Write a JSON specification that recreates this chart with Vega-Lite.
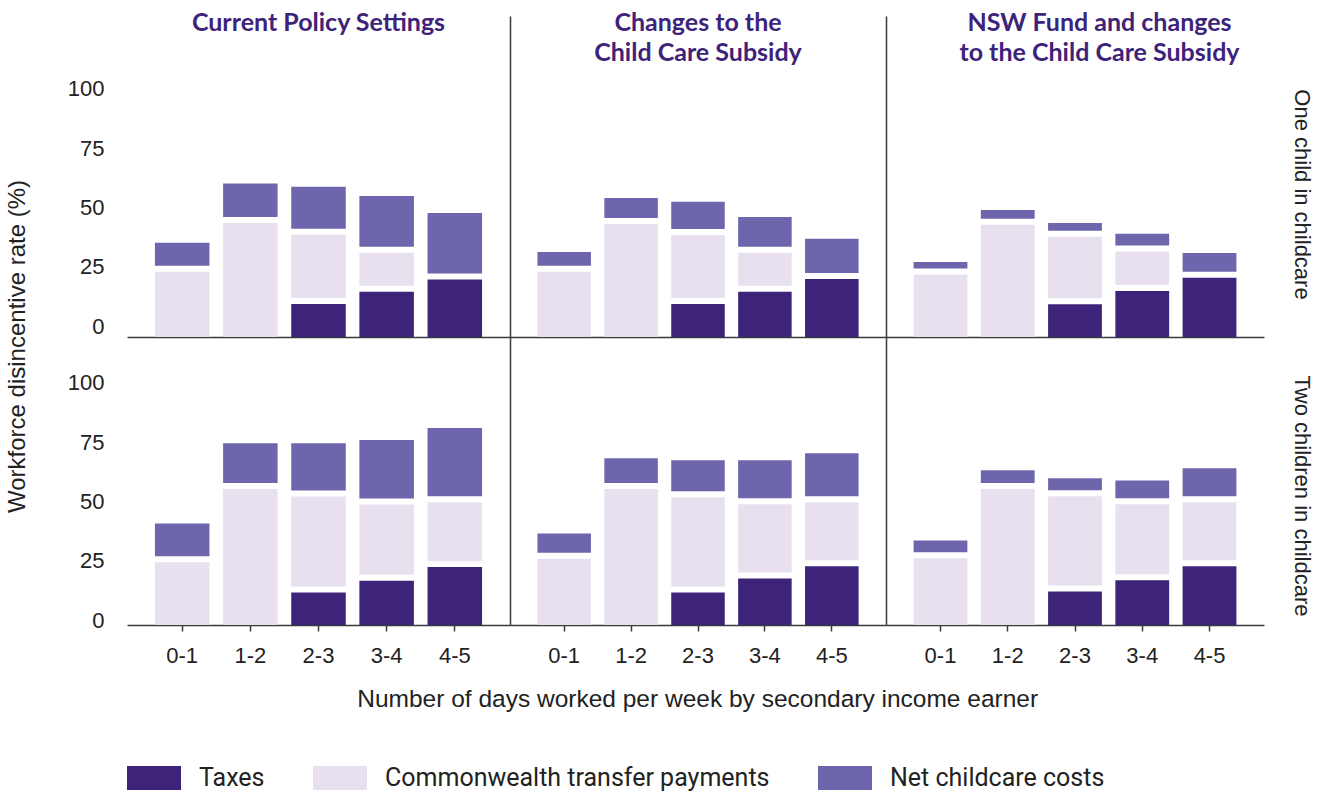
{
  "$schema": "https://vega.github.io/schema/vega-lite/v6.json",
  "padding": {"left": 6, "top": 11, "right": 5, "bottom": 0},
  "data": {"values": [
    {"policy":"Current","children":"One","days":"0-1","component":"Taxes","order":1,"value":0},
    {"policy":"Current","children":"One","days":"0-1","component":"Commonwealth transfer payments","order":2,"value":28.8},
    {"policy":"Current","children":"One","days":"0-1","component":"Net childcare costs","order":3,"value":11.0},
    {"policy":"Current","children":"One","days":"1-2","component":"Taxes","order":1,"value":0},
    {"policy":"Current","children":"One","days":"1-2","component":"Commonwealth transfer payments","order":2,"value":49.3},
    {"policy":"Current","children":"One","days":"1-2","component":"Net childcare costs","order":3,"value":15.4},
    {"policy":"Current","children":"One","days":"2-3","component":"Taxes","order":1,"value":15.2},
    {"policy":"Current","children":"One","days":"2-3","component":"Commonwealth transfer payments","order":2,"value":29.2},
    {"policy":"Current","children":"One","days":"2-3","component":"Net childcare costs","order":3,"value":19.0},
    {"policy":"Current","children":"One","days":"3-4","component":"Taxes","order":1,"value":20.4},
    {"policy":"Current","children":"One","days":"3-4","component":"Commonwealth transfer payments","order":2,"value":16.4},
    {"policy":"Current","children":"One","days":"3-4","component":"Net childcare costs","order":3,"value":22.7},
    {"policy":"Current","children":"One","days":"4-5","component":"Taxes","order":1,"value":25.5},
    {"policy":"Current","children":"One","days":"4-5","component":"Commonwealth transfer payments","order":2,"value":0},
    {"policy":"Current","children":"One","days":"4-5","component":"Net childcare costs","order":3,"value":26.8},

    {"policy":"CCS","children":"One","days":"0-1","component":"Taxes","order":1,"value":0},
    {"policy":"CCS","children":"One","days":"0-1","component":"Commonwealth transfer payments","order":2,"value":28.8},
    {"policy":"CCS","children":"One","days":"0-1","component":"Net childcare costs","order":3,"value":7.1},
    {"policy":"CCS","children":"One","days":"1-2","component":"Taxes","order":1,"value":0},
    {"policy":"CCS","children":"One","days":"1-2","component":"Commonwealth transfer payments","order":2,"value":48.9},
    {"policy":"CCS","children":"One","days":"1-2","component":"Net childcare costs","order":3,"value":9.7},
    {"policy":"CCS","children":"One","days":"2-3","component":"Taxes","order":1,"value":15.2},
    {"policy":"CCS","children":"One","days":"2-3","component":"Commonwealth transfer payments","order":2,"value":29.1},
    {"policy":"CCS","children":"One","days":"2-3","component":"Net childcare costs","order":3,"value":12.7},
    {"policy":"CCS","children":"One","days":"3-4","component":"Taxes","order":1,"value":20.3},
    {"policy":"CCS","children":"One","days":"3-4","component":"Commonwealth transfer payments","order":2,"value":16.5},
    {"policy":"CCS","children":"One","days":"3-4","component":"Net childcare costs","order":3,"value":13.8},
    {"policy":"CCS","children":"One","days":"4-5","component":"Taxes","order":1,"value":25.7},
    {"policy":"CCS","children":"One","days":"4-5","component":"Commonwealth transfer payments","order":2,"value":0},
    {"policy":"CCS","children":"One","days":"4-5","component":"Net childcare costs","order":3,"value":15.7},

    {"policy":"NSW","children":"One","days":"0-1","component":"Taxes","order":1,"value":0},
    {"policy":"NSW","children":"One","days":"0-1","component":"Commonwealth transfer payments","order":2,"value":27.6},
    {"policy":"NSW","children":"One","days":"0-1","component":"Net childcare costs","order":3,"value":4.0},
    {"policy":"NSW","children":"One","days":"1-2","component":"Taxes","order":1,"value":0},
    {"policy":"NSW","children":"One","days":"1-2","component":"Commonwealth transfer payments","order":2,"value":48.6},
    {"policy":"NSW","children":"One","days":"1-2","component":"Net childcare costs","order":3,"value":5.0},
    {"policy":"NSW","children":"One","days":"2-3","component":"Taxes","order":1,"value":15.1},
    {"policy":"NSW","children":"One","days":"2-3","component":"Commonwealth transfer payments","order":2,"value":28.4},
    {"policy":"NSW","children":"One","days":"2-3","component":"Net childcare costs","order":3,"value":4.6},
    {"policy":"NSW","children":"One","days":"3-4","component":"Taxes","order":1,"value":20.7},
    {"policy":"NSW","children":"One","days":"3-4","component":"Commonwealth transfer payments","order":2,"value":16.6},
    {"policy":"NSW","children":"One","days":"3-4","component":"Net childcare costs","order":3,"value":6.2},
    {"policy":"NSW","children":"One","days":"4-5","component":"Taxes","order":1,"value":26.3},
    {"policy":"NSW","children":"One","days":"4-5","component":"Commonwealth transfer payments","order":2,"value":0},
    {"policy":"NSW","children":"One","days":"4-5","component":"Net childcare costs","order":3,"value":9.1},

    {"policy":"Current","children":"Two","days":"0-1","component":"Taxes","order":1,"value":0},
    {"policy":"Current","children":"Two","days":"0-1","component":"Commonwealth transfer payments","order":2,"value":27.7},
    {"policy":"Current","children":"Two","days":"0-1","component":"Net childcare costs","order":3,"value":15.1},
    {"policy":"Current","children":"Two","days":"1-2","component":"Taxes","order":1,"value":0},
    {"policy":"Current","children":"Two","days":"1-2","component":"Commonwealth transfer payments","order":2,"value":58.6},
    {"policy":"Current","children":"Two","days":"1-2","component":"Net childcare costs","order":3,"value":18.1},
    {"policy":"Current","children":"Two","days":"2-3","component":"Taxes","order":1,"value":15.0},
    {"policy":"Current","children":"Two","days":"2-3","component":"Commonwealth transfer payments","order":2,"value":40.5},
    {"policy":"Current","children":"Two","days":"2-3","component":"Net childcare costs","order":3,"value":21.2},
    {"policy":"Current","children":"Two","days":"3-4","component":"Taxes","order":1,"value":19.9},
    {"policy":"Current","children":"Two","days":"3-4","component":"Commonwealth transfer payments","order":2,"value":32.2},
    {"policy":"Current","children":"Two","days":"3-4","component":"Net childcare costs","order":3,"value":25.9},
    {"policy":"Current","children":"Two","days":"4-5","component":"Taxes","order":1,"value":25.7},
    {"policy":"Current","children":"Two","days":"4-5","component":"Commonwealth transfer payments","order":2,"value":27.3},
    {"policy":"Current","children":"Two","days":"4-5","component":"Net childcare costs","order":3,"value":30.1},

    {"policy":"CCS","children":"Two","days":"0-1","component":"Taxes","order":1,"value":0},
    {"policy":"CCS","children":"Two","days":"0-1","component":"Commonwealth transfer payments","order":2,"value":29.2},
    {"policy":"CCS","children":"Two","days":"0-1","component":"Net childcare costs","order":3,"value":9.4},
    {"policy":"CCS","children":"Two","days":"1-2","component":"Taxes","order":1,"value":0},
    {"policy":"CCS","children":"Two","days":"1-2","component":"Commonwealth transfer payments","order":2,"value":58.6},
    {"policy":"CCS","children":"Two","days":"1-2","component":"Net childcare costs","order":3,"value":11.7},
    {"policy":"CCS","children":"Two","days":"2-3","component":"Taxes","order":1,"value":15.0},
    {"policy":"CCS","children":"Two","days":"2-3","component":"Commonwealth transfer payments","order":2,"value":40.2},
    {"policy":"CCS","children":"Two","days":"2-3","component":"Net childcare costs","order":3,"value":14.3},
    {"policy":"CCS","children":"Two","days":"3-4","component":"Taxes","order":1,"value":20.9},
    {"policy":"CCS","children":"Two","days":"3-4","component":"Commonwealth transfer payments","order":2,"value":31.3},
    {"policy":"CCS","children":"Two","days":"3-4","component":"Net childcare costs","order":3,"value":17.3},
    {"policy":"CCS","children":"Two","days":"4-5","component":"Taxes","order":1,"value":26.0},
    {"policy":"CCS","children":"Two","days":"4-5","component":"Commonwealth transfer payments","order":2,"value":27.1},
    {"policy":"CCS","children":"Two","days":"4-5","component":"Net childcare costs","order":3,"value":19.4},

    {"policy":"NSW","children":"Two","days":"0-1","component":"Taxes","order":1,"value":0},
    {"policy":"NSW","children":"Two","days":"0-1","component":"Commonwealth transfer payments","order":2,"value":29.4},
    {"policy":"NSW","children":"Two","days":"0-1","component":"Net childcare costs","order":3,"value":6.2},
    {"policy":"NSW","children":"Two","days":"1-2","component":"Taxes","order":1,"value":0},
    {"policy":"NSW","children":"Two","days":"1-2","component":"Commonwealth transfer payments","order":2,"value":58.6},
    {"policy":"NSW","children":"Two","days":"1-2","component":"Net childcare costs","order":3,"value":6.7},
    {"policy":"NSW","children":"Two","days":"2-3","component":"Taxes","order":1,"value":15.4},
    {"policy":"NSW","children":"Two","days":"2-3","component":"Commonwealth transfer payments","order":2,"value":40.2},
    {"policy":"NSW","children":"Two","days":"2-3","component":"Net childcare costs","order":3,"value":6.3},
    {"policy":"NSW","children":"Two","days":"3-4","component":"Taxes","order":1,"value":20.1},
    {"policy":"NSW","children":"Two","days":"3-4","component":"Commonwealth transfer payments","order":2,"value":32.1},
    {"policy":"NSW","children":"Two","days":"3-4","component":"Net childcare costs","order":3,"value":8.8},
    {"policy":"NSW","children":"Two","days":"4-5","component":"Taxes","order":1,"value":26.0},
    {"policy":"NSW","children":"Two","days":"4-5","component":"Commonwealth transfer payments","order":2,"value":27.1},
    {"policy":"NSW","children":"Two","days":"4-5","component":"Net childcare costs","order":3,"value":13.0}
  ]},
  "title": {"text": "Number of days worked per week by secondary income earner", "orient": "bottom", "anchor": "middle", "font": "Liberation Sans", "fontSize": 24.5, "fontWeight": "normal", "color": "#222222", "offset": -103, "dx": 38},
  "spacing": 0,
  "hconcat": [
    {
      "title": {"text": "Workforce disincentive rate (%)", "orient": "left", "anchor": "middle", "font": "Liberation Sans", "fontSize": 24, "fontWeight": "normal", "color": "#222222", "offset": 37, "dx": -8},
      "spacing": 0,
      "vconcat": [
        {
          "width": 383, "height": 321,
          "title": {"text": ["Current Policy Settings", " "], "anchor": "middle", "offset": -50},
          "transform": [
            {"filter": "datum.policy === 'Current' && datum.children === 'One'"},
            {"stack": "value", "groupby": ["days"], "sort": [{"field": "order", "order": "ascending"}], "as": ["v0", "v1"]}
          ],
          "encoding": {"x": {"field": "days", "type": "nominal", "title": null, "scale": {"paddingInner": 0.2, "paddingOuter": 0.41}, "axis": {"labels": false, "ticks": false, "domain": true, "title": null}}},
          "layer": [
            {"mark": {"type": "bar"},
             "encoding": {
               "y": {"field": "v0", "type": "quantitative", "scale": {"domain": [0, 135.4], "nice": false}, "axis": {"values": [0, 25, 50, 75, 100], "ticks": false, "domain": false, "labelPadding": 23, "labelOffset": -11, "title": null}},
               "y2": {"field": "v1"},
               "color": {"field": "component", "type": "nominal", "scale": {"domain": ["Taxes", "Commonwealth transfer payments", "Net childcare costs"], "range": ["#3D2379", "#E8E0EE", "#6E66AC"]}, "legend": {"title": null, "orient": "none", "legendX": 0, "legendY": 735, "direction": "horizontal", "columns": 3}}
             }},
            {"transform": [{"filter": "datum.component !== 'Net childcare costs' && datum.value > 0"}],
             "mark": {"type": "tick", "color": "#ffffff", "thickness": 6, "size": 57, "opacity": 1},
             "encoding": {"y": {"field": "v1", "type": "quantitative"}}}
          ]
        },
        {
          "width": 383, "height": 288,
          "transform": [
            {"filter": "datum.policy === 'Current' && datum.children === 'Two'"},
            {"stack": "value", "groupby": ["days"], "sort": [{"field": "order", "order": "ascending"}], "as": ["v0", "v1"]}
          ],
          "encoding": {"x": {"field": "days", "type": "nominal", "title": null, "scale": {"paddingInner": 0.2, "paddingOuter": 0.41}, "axis": {"labelAngle": 0, "ticks": true, "tickSize": 6, "labelPadding": 14, "title": null}}},
          "layer": [
            {"mark": {"type": "bar"},
             "encoding": {
               "y": {"field": "v0", "type": "quantitative", "scale": {"domain": [0, 121.5], "nice": false}, "axis": {"values": [0, 25, 50, 75, 100], "ticks": false, "domain": false, "labelPadding": 23, "labelOffset": -5, "title": null}},
               "y2": {"field": "v1"},
               "color": {"field": "component", "type": "nominal"}
             }},
            {"transform": [{"filter": "datum.component !== 'Net childcare costs' && datum.value > 0"}],
             "mark": {"type": "tick", "color": "#ffffff", "thickness": 6, "size": 57, "opacity": 1},
             "encoding": {"y": {"field": "v1", "type": "quantitative"}}}
          ]
        }
      ]
    },
    {
      "title": {"text": ["Changes to the", "Child Care Subsidy"], "anchor": "middle", "offset": -50},
      "spacing": 0,
      "vconcat": [
        {
          "width": 376, "height": 321,
          "transform": [
            {"filter": "datum.policy === 'CCS' && datum.children === 'One'"},
            {"stack": "value", "groupby": ["days"], "sort": [{"field": "order", "order": "ascending"}], "as": ["v0", "v1"]}
          ],
          "encoding": {"x": {"field": "days", "type": "nominal", "title": null, "scale": {"paddingInner": 0.2, "paddingOuter": 0.41}, "axis": {"labels": false, "ticks": false, "domain": true, "title": null}}},
          "layer": [
            {"mark": {"type": "bar"},
             "encoding": {
               "y": {"field": "v0", "type": "quantitative", "scale": {"domain": [0, 135.4], "nice": false}, "axis": {"values": [0, 25, 50, 75, 100], "labels": false, "ticks": false, "domain": true, "title": null}},
               "y2": {"field": "v1"},
               "color": {"field": "component", "type": "nominal"}
             }},
            {"transform": [{"filter": "datum.component !== 'Net childcare costs' && datum.value > 0"}],
             "mark": {"type": "tick", "color": "#ffffff", "thickness": 6, "size": 57, "opacity": 1},
             "encoding": {"y": {"field": "v1", "type": "quantitative"}}}
          ]
        },
        {
          "width": 376, "height": 288,
          "transform": [
            {"filter": "datum.policy === 'CCS' && datum.children === 'Two'"},
            {"stack": "value", "groupby": ["days"], "sort": [{"field": "order", "order": "ascending"}], "as": ["v0", "v1"]}
          ],
          "encoding": {"x": {"field": "days", "type": "nominal", "title": null, "scale": {"paddingInner": 0.2, "paddingOuter": 0.41}, "axis": {"labelAngle": 0, "ticks": true, "tickSize": 6, "labelPadding": 14, "title": null}}},
          "layer": [
            {"mark": {"type": "bar"},
             "encoding": {
               "y": {"field": "v0", "type": "quantitative", "scale": {"domain": [0, 121.5], "nice": false}, "axis": {"values": [0, 25, 50, 75, 100], "labels": false, "ticks": false, "domain": true, "title": null}},
               "y2": {"field": "v1"},
               "color": {"field": "component", "type": "nominal"}
             }},
            {"transform": [{"filter": "datum.component !== 'Net childcare costs' && datum.value > 0"}],
             "mark": {"type": "tick", "color": "#ffffff", "thickness": 6, "size": 57, "opacity": 1},
             "encoding": {"y": {"field": "v1", "type": "quantitative"}}}
          ]
        }
      ]
    },
    {
      "title": {"text": ["NSW Fund and changes", "to the Child Care Subsidy"], "anchor": "middle", "offset": -50},
      "spacing": 0,
      "vconcat": [
        {
          "width": 378, "height": 321,
          "title": {"text": "One child in childcare", "orient": "right", "anchor": "middle", "font": "Liberation Sans", "fontSize": 22, "fontWeight": "normal", "color": "#222222", "offset": 26, "lineHeight": 22, "dx": 18},
          "transform": [
            {"filter": "datum.policy === 'NSW' && datum.children === 'One'"},
            {"stack": "value", "groupby": ["days"], "sort": [{"field": "order", "order": "ascending"}], "as": ["v0", "v1"]}
          ],
          "encoding": {"x": {"field": "days", "type": "nominal", "title": null, "scale": {"paddingInner": 0.2, "paddingOuter": 0.41}, "axis": {"labels": false, "ticks": false, "domain": true, "title": null}}},
          "layer": [
            {"mark": {"type": "bar"},
             "encoding": {
               "y": {"field": "v0", "type": "quantitative", "scale": {"domain": [0, 135.4], "nice": false}, "axis": {"values": [0, 25, 50, 75, 100], "labels": false, "ticks": false, "domain": true, "title": null}},
               "y2": {"field": "v1"},
               "color": {"field": "component", "type": "nominal"}
             }},
            {"transform": [{"filter": "datum.component !== 'Net childcare costs' && datum.value > 0"}],
             "mark": {"type": "tick", "color": "#ffffff", "thickness": 6, "size": 57, "opacity": 1},
             "encoding": {"y": {"field": "v1", "type": "quantitative"}}}
          ]
        },
        {
          "width": 378, "height": 288,
          "title": {"text": "Two children in childcare", "orient": "right", "anchor": "middle", "font": "Liberation Sans", "fontSize": 22, "fontWeight": "normal", "color": "#222222", "offset": 26, "lineHeight": 22, "dx": 15},
          "transform": [
            {"filter": "datum.policy === 'NSW' && datum.children === 'Two'"},
            {"stack": "value", "groupby": ["days"], "sort": [{"field": "order", "order": "ascending"}], "as": ["v0", "v1"]}
          ],
          "encoding": {"x": {"field": "days", "type": "nominal", "title": null, "scale": {"paddingInner": 0.2, "paddingOuter": 0.41}, "axis": {"labelAngle": 0, "ticks": true, "tickSize": 6, "labelPadding": 14, "title": null}}},
          "layer": [
            {"mark": {"type": "bar"},
             "encoding": {
               "y": {"field": "v0", "type": "quantitative", "scale": {"domain": [0, 121.5], "nice": false}, "axis": {"values": [0, 25, 50, 75, 100], "labels": false, "ticks": false, "domain": true, "title": null}},
               "y2": {"field": "v1"},
               "color": {"field": "component", "type": "nominal"}
             }},
            {"transform": [{"filter": "datum.component !== 'Net childcare costs' && datum.value > 0"}],
             "mark": {"type": "tick", "color": "#ffffff", "thickness": 6, "size": 57, "opacity": 1},
             "encoding": {"y": {"field": "v1", "type": "quantitative"}}}
          ]
        }
      ]
    }
  ],
  "config": {
    "view": {"stroke": null},
    "axis": {"labelFont": "Liberation Sans", "labelFontSize": 22, "labelColor": "#222222", "domainColor": "#3a3a3a", "domainWidth": 1.5, "tickColor": "#3a3a3a", "tickWidth": 1.5, "grid": false, "titleFont": "Liberation Sans", "titleFontSize": 22, "titleFontWeight": "normal", "titleColor": "#222222", "zindex": 1},
    "title": {"font": "Lato", "fontSize": 25, "fontWeight": "bold", "color": "#3D2379", "lineHeight": 30},
    "legend": {"labelFont": "Roboto", "labelFontSize": 25, "labelColor": "#222222", "symbolType": "M-1,-0.44H1V0.44H-1Z", "symbolSize": 2916, "symbolStrokeWidth": 0, "symbolOpacity": 1, "labelOffset": 18, "columnPadding": 48, "labelLimit": 500}
  }
}
